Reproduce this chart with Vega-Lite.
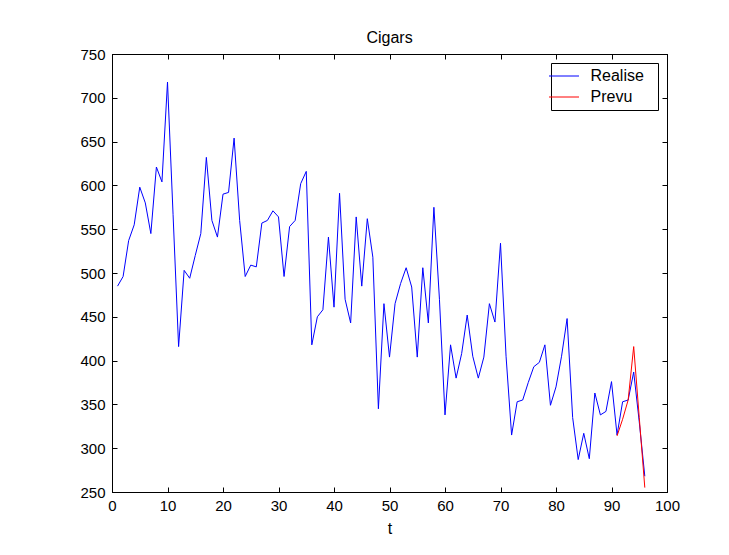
{
  "$schema": "https://vega.github.io/schema/vega-lite/v6.json",
  "autosize": "none",
  "width": 555,
  "height": 438,
  "padding": {"left": 112, "top": 54, "right": 62, "bottom": 63},
  "background": "white",
  "title": {"text": "Cigars", "fontSize": 16, "font": "Liberation Sans", "fontWeight": "normal", "color": "black", "offset": 1, "anchor": "middle"},
  "config": {
    "view": {"stroke": "black", "strokeWidth": 1},
    "axis": {"grid": false, "domainColor": "black", "tickColor": "black", "labelColor": "black", "labelFont": "Liberation Sans", "labelFontSize": 15, "titleFont": "Liberation Sans", "titleFontSize": 16, "titleFontWeight": "normal", "titleColor": "black", "tickSize": -5, "labelPadding": 11, "labelFlush": false, "labelOverlap": false}
  },
  "datasets": {
    "cigars": [
      {"t":1,"value":485,"series":"Realise"},{"t":2,"value":496,"series":"Realise"},{"t":3,"value":537,"series":"Realise"},{"t":4,"value":555,"series":"Realise"},{"t":5,"value":598,"series":"Realise"},{"t":6,"value":580,"series":"Realise"},{"t":7,"value":545,"series":"Realise"},{"t":8,"value":621,"series":"Realise"},{"t":9,"value":604,"series":"Realise"},{"t":10,"value":718,"series":"Realise"},
      {"t":11,"value":567,"series":"Realise"},{"t":12,"value":416,"series":"Realise"},{"t":13,"value":503,"series":"Realise"},{"t":14,"value":494,"series":"Realise"},{"t":15,"value":520,"series":"Realise"},{"t":16,"value":545,"series":"Realise"},{"t":17,"value":632,"series":"Realise"},{"t":18,"value":560,"series":"Realise"},{"t":19,"value":541,"series":"Realise"},{"t":20,"value":590,"series":"Realise"},
      {"t":21,"value":592,"series":"Realise"},{"t":22,"value":654,"series":"Realise"},{"t":23,"value":560,"series":"Realise"},{"t":24,"value":496,"series":"Realise"},{"t":25,"value":509,"series":"Realise"},{"t":26,"value":507,"series":"Realise"},{"t":27,"value":557,"series":"Realise"},{"t":28,"value":560,"series":"Realise"},{"t":29,"value":571,"series":"Realise"},{"t":30,"value":564,"series":"Realise"},
      {"t":31,"value":496,"series":"Realise"},{"t":32,"value":553,"series":"Realise"},{"t":33,"value":560,"series":"Realise"},{"t":34,"value":602,"series":"Realise"},{"t":35,"value":616,"series":"Realise"},{"t":36,"value":418,"series":"Realise"},{"t":37,"value":450,"series":"Realise"},{"t":38,"value":458,"series":"Realise"},{"t":39,"value":541,"series":"Realise"},{"t":40,"value":461,"series":"Realise"},
      {"t":41,"value":591,"series":"Realise"},{"t":42,"value":470,"series":"Realise"},{"t":43,"value":443,"series":"Realise"},{"t":44,"value":564,"series":"Realise"},{"t":45,"value":485,"series":"Realise"},{"t":46,"value":562,"series":"Realise"},{"t":47,"value":518,"series":"Realise"},{"t":48,"value":345,"series":"Realise"},{"t":49,"value":465,"series":"Realise"},{"t":50,"value":404,"series":"Realise"},
      {"t":51,"value":465,"series":"Realise"},{"t":52,"value":488,"series":"Realise"},{"t":53,"value":506,"series":"Realise"},{"t":54,"value":484,"series":"Realise"},{"t":55,"value":404,"series":"Realise"},{"t":56,"value":506,"series":"Realise"},{"t":57,"value":443,"series":"Realise"},{"t":58,"value":575,"series":"Realise"},{"t":59,"value":470,"series":"Realise"},{"t":60,"value":338,"series":"Realise"},
      {"t":61,"value":418,"series":"Realise"},{"t":62,"value":380,"series":"Realise"},{"t":63,"value":408,"series":"Realise"},{"t":64,"value":452,"series":"Realise"},{"t":65,"value":405,"series":"Realise"},{"t":66,"value":380,"series":"Realise"},{"t":67,"value":404,"series":"Realise"},{"t":68,"value":465,"series":"Realise"},{"t":69,"value":444,"series":"Realise"},{"t":70,"value":534,"series":"Realise"},
      {"t":71,"value":405,"series":"Realise"},{"t":72,"value":315,"series":"Realise"},{"t":73,"value":353,"series":"Realise"},{"t":74,"value":355,"series":"Realise"},{"t":75,"value":375,"series":"Realise"},{"t":76,"value":393,"series":"Realise"},{"t":77,"value":398,"series":"Realise"},{"t":78,"value":418,"series":"Realise"},{"t":79,"value":349,"series":"Realise"},{"t":80,"value":370,"series":"Realise"},
      {"t":81,"value":405,"series":"Realise"},{"t":82,"value":448,"series":"Realise"},{"t":83,"value":335,"series":"Realise"},{"t":84,"value":287,"series":"Realise"},{"t":85,"value":317,"series":"Realise"},{"t":86,"value":288,"series":"Realise"},{"t":87,"value":363,"series":"Realise"},{"t":88,"value":338,"series":"Realise"},{"t":89,"value":342,"series":"Realise"},{"t":90,"value":376,"series":"Realise"},
      {"t":91,"value":315,"series":"Realise"},{"t":92,"value":353,"series":"Realise"},{"t":93,"value":355,"series":"Realise"},{"t":94,"value":387,"series":"Realise"},{"t":95,"value":330,"series":"Realise"},{"t":96,"value":268,"series":"Realise"},
      {"t":91,"value":314,"series":"Prevu"},{"t":92,"value":333,"series":"Prevu"},{"t":93,"value":355,"series":"Prevu"},{"t":94,"value":416,"series":"Prevu"},{"t":95,"value":335,"series":"Prevu"},{"t":96,"value":255,"series":"Prevu"}
    ]
  },
  "data": {"name": "cigars"},
  "layer": [
    {
      "mark": {"type": "line", "strokeWidth": 1},
      "encoding": {
        "x": {"field": "t", "type": "quantitative", "scale": {"domain": [0, 100], "nice": false, "zero": false},
              "axis": {"orient": "bottom", "title": "t", "values": [0,10,20,30,40,50,60,70,80,90,100], "titlePadding": 7}},
        "y": {"field": "value", "type": "quantitative", "scale": {"domain": [250, 750], "nice": false, "zero": false},
              "axis": {"orient": "left", "title": null, "labelPadding": 12, "values": [250,300,350,400,450,500,550,600,650,700,750]}},
        "color": {"field": "series", "type": "nominal", "sort": ["Realise", "Prevu"],
                  "scale": {"domain": ["Realise", "Prevu"], "range": ["#0000ff", "#ff0000"]},
                  "legend": {"title": null, "orient": "top-right", "offset": 9, "symbolType": "M-2.67,0M11.6,0M-2,0H2", "symbolSize": 225, "symbolStrokeWidth": 1, "strokeColor": "black", "fillColor": "white", "padding": 5, "labelFont": "Liberation Sans", "labelFontSize": 16, "labelColor": "black", "labelOffset": 18.5, "rowPadding": 5}},
        "detail": {"field": "series"}
      }
    },
    {
      "mark": {"type": "line", "opacity": 0},
      "encoding": {
        "x": {"field": "t", "type": "quantitative", "axis": {"orient": "top", "title": null, "labels": false, "values": [0,10,20,30,40,50,60,70,80,90,100]}},
        "y": {"field": "value", "type": "quantitative", "axis": {"orient": "right", "title": null, "labels": false, "values": [250,300,350,400,450,500,550,600,650,700,750]}},
        "detail": {"field": "series"}
      }
    }
  ],
  "resolve": {"axis": {"x": "independent", "y": "independent"}}
}
